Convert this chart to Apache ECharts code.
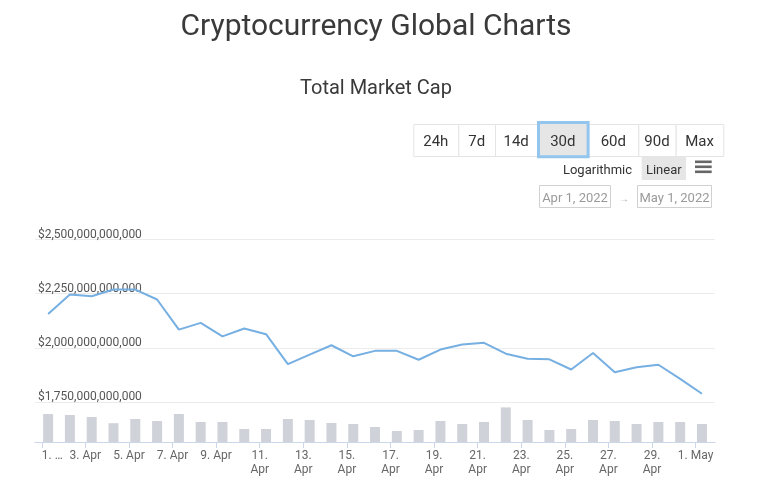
<!DOCTYPE html>
<html><head><meta charset="utf-8">
<script src="https://cdn.jsdelivr.net/npm/echarts@6/dist/echarts.min.js"></script>
<style>html,body{margin:0;padding:0;background:#fff}#c{width:770px;height:498px}</style>
</head><body><div id="c"></div>
<script>
// ---- data ----
const dates = ['2022-04-01','2022-04-02','2022-04-03','2022-04-04','2022-04-05','2022-04-06','2022-04-07','2022-04-08','2022-04-09','2022-04-10','2022-04-11','2022-04-12','2022-04-13','2022-04-14','2022-04-15','2022-04-16','2022-04-17','2022-04-18','2022-04-19','2022-04-20','2022-04-21','2022-04-22','2022-04-23','2022-04-24','2022-04-25','2022-04-26','2022-04-27','2022-04-28','2022-04-29','2022-04-30','2022-05-01'];
// total market cap, billions USD
const marketCap = [2156,2246,2238,2269,2269,2223,2084,2115,2053,2089,2063,1925,1969,2012,1961,1986,1986,1945,1992,2015,2023,1973,1950,1947,1900,1976,1887,1910,1922,1857,1788];
// total volume, billions USD
const volume = [140,135,125,94,115,105,140,100,100,65,65,115,110,95,90,75,55,60,105,90,100,173,110,60,65,110,105,90,100,100,90];
const tickDays = [0,2,4,6,8,10,12,14,16,18,20,22,24,26,28,30];
const tickLabels = ['1. …','3. Apr','5. Apr','7. Apr','9. Apr','11.\nApr','13.\nApr','15.\nApr','17.\nApr','19.\nApr','21.\nApr','23.\nApr','25.\nApr','27.\nApr','29.\nApr','1. May'];
const rangeButtons = ['24h','7d','14d','30d','60d','90d','Max'];
const selectedRange = '30d';
const scaleOptions = ['Logarithmic','Linear'];
const dateRange = ['Apr 1, 2022','May 1, 2022'];
const titleText = 'Cryptocurrency Global Charts';
const subtitleText = 'Total Market Cap';

// ---- build ----
const hourOffset = 7;
const day0 = Date.parse(dates[0]);
const xs = dates.map(d => (Date.parse(d) - day0) / 86400000 + hourOffset / 24);
const lineData = xs.map((x, i) => [x, marketCap[i] * 1e9]);
const barData = xs.map((x, i) => [x, volume[i]]);

const FONT = 'Roboto';
const graphics = [];
graphics.push({type:'text', x:376, y:27.5, style:{text:titleText, font:'30px Roboto', fill:'#3a3a3a', align:'center', verticalAlign:'middle'}});
graphics.push({type:'text', x:376, y:89, style:{text:subtitleText, font:'20px Roboto', fill:'#3a3a3a', align:'center', verticalAlign:'middle'}});

// range buttons
const btnEdges = [413.3,458.3,495,537.3,588.3,638.3,675.7,723.3];
rangeButtons.forEach((t, i) => {
  const x0 = btnEdges[i], x1 = btnEdges[i+1];
  graphics.push({type:'rect', shape:{x:x0+0.5, y:124.5, width:x1-x0, height:32}, style:{fill:'#fff', stroke:'#e4e4e4', lineWidth:1}});
});
rangeButtons.forEach((t, i) => {
  const x0 = btnEdges[i], x1 = btnEdges[i+1];
  if (t === selectedRange) {
    graphics.push({type:'rect', shape:{x:x0+1.2, y:122.5, width:x1-x0-1.4, height:34.3}, style:{fill:'#e6e6e6', stroke:'#93c5ee', lineWidth:3}});
  }
  graphics.push({type:'text', x:(x0+x1)/2, y:142.5, style:{text:t, font:'15px Roboto', fill:'#333', align:'center', verticalAlign:'middle'}});
});
// scale options
graphics.push({type:'rect', shape:{x:641.7, y:156.7, width:44.3, height:23.3}, style:{fill:'#e6e6e6'}});
graphics.push({type:'text', x:597.5, y:170.5, style:{text:scaleOptions[0], font:'13px Roboto', fill:'#333', align:'center', verticalAlign:'middle'}});
graphics.push({type:'text', x:663.8, y:170.5, style:{text:scaleOptions[1], font:'13px Roboto', fill:'#333', align:'center', verticalAlign:'middle'}});
[160.5,165.5,170.5].forEach(y => graphics.push({type:'rect', shape:{x:695, y:y, width:16.7, height:2.6}, style:{fill:'#666'}}));
// date inputs
graphics.push({type:'rect', shape:{x:539.5, y:185.5, width:71, height:22}, style:{fill:'#fff', stroke:'#d0d0d0', lineWidth:1}});
graphics.push({type:'text', x:575, y:198.5, style:{text:dateRange[0], font:'13px Roboto', fill:'#9a9a9a', align:'center', verticalAlign:'middle'}});
graphics.push({type:'text', x:624, y:199, style:{text:'→', font:'10px Roboto', fill:'#aaa', align:'center', verticalAlign:'middle'}});
graphics.push({type:'rect', shape:{x:637.5, y:185.5, width:74, height:22}, style:{fill:'#fff', stroke:'#d0d0d0', lineWidth:1}});
graphics.push({type:'text', x:674.5, y:198.5, style:{text:dateRange[1], font:'13px Roboto', fill:'#9a9a9a', align:'center', verticalAlign:'middle'}});

const xMin = -0.31, xMax = 30.89;
const chart = echarts.init(document.getElementById('c'), null, {renderer:'canvas'});
chart.setOption({
  backgroundColor:'#fff',
  animation:false,
  textStyle:{fontFamily:FONT},
  graphic: graphics,
  grid:[
    {left:35, top:239.5, width:680, height:162.5},
    {left:35, top:402, width:680, height:40}
  ],
  xAxis:[
    {type:'value', gridIndex:0, min:xMin, max:xMax, show:false},
    {type:'value', gridIndex:1, min:xMin, max:xMax,
      splitLine:{show:false},
      axisLine:{show:true, lineStyle:{color:'#ccd6eb', width:1}},
      axisTick:{show:true, customValues:tickDays, length:6, lineStyle:{color:'#ccd6eb'}},
      axisLabel:{show:true, customValues:tickDays, margin:7, fontSize:12, lineHeight:14, color:'#666', fontFamily:FONT,
        formatter:(v) => {
          const idx = tickDays.indexOf(Math.round(v));
          const s = tickLabels[idx];
          return idx === 0 ? '{first|' + s + '}' : s;
        },
        rich:{first:{fontSize:12, color:'#666', fontFamily:FONT, padding:[0,0,0,21]}}
      }
    }
  ],
  yAxis:[
    {type:'value', gridIndex:0, min:1750e9, max:2500e9, interval:250e9,
      axisLine:{show:false}, axisTick:{show:false},
      splitLine:{show:true, lineStyle:{color:'#ececec', width:1}},
      axisLabel:{inside:true, margin:3, align:'left', verticalAlign:'bottom', lineHeight:10, fontSize:12, color:'#555', fontFamily:FONT,
        formatter:(v) => '$' + Math.round(v).toLocaleString('en-US')}
    },
    {type:'value', gridIndex:1, min:0, max:200, show:false, splitLine:{show:false}}
  ],
  series:[
    {type:'line', xAxisIndex:0, yAxisIndex:0, data:lineData, showSymbol:false, symbol:'none',
      lineStyle:{color:'#76afe2', width:2}},
    {type:'bar', xAxisIndex:1, yAxisIndex:1, data:barData, barWidth:10,
      itemStyle:{color:'#cfd2d8'}}
  ]
});
</script></body></html>
